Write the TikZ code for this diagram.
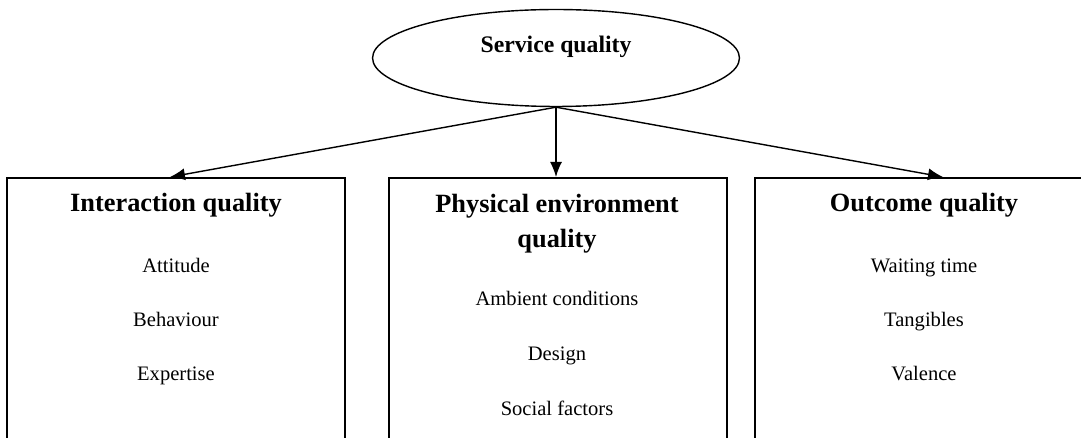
\documentclass[tikz,border=0pt]{standalone}
\usepackage{fontspec}
\setmainfont{Liberation Serif}
\usetikzlibrary{calc,positioning,shapes.geometric,arrows.meta}

\tikzset{
    qualbox/.style={draw, line width=0.9pt, minimum width=6.76cm,
        minimum height=5.9cm, anchor=north},
    boxtitle/.style={font=\fontsize{15}{19.8}\selectfont\bfseries, align=center},
    boxitem/.style={font=\fontsize{11.7}{14}\selectfont,
        text height=0.66em, text depth=0.2em}
}

\begin{document}
\begin{tikzpicture}[x=0.02cm, y=-0.02cm, >={Latex[length=0.3cm,width=0.24cm]}]
    \useasboundingbox (0,0) rectangle (1081,438);
    \clip (0,0) rectangle (1081,438);
    % Service quality
    \node [draw, ellipse, line width=0.8pt,
        minimum width=7.34cm,
        minimum height=1.94cm,
        inner sep=0pt
    ] (Service) at (556,58) {};
    \node [font=\fontsize{13.5}{16}\selectfont\bfseries] (ServiceText) at (556,47) {Service quality};
    % Boxes
    \node [qualbox] (Interaction) at (176,177) {};
    \node [qualbox] (Physical) at (558,177) {};
    \node [qualbox] (Outcome) at (924,177) {};
    % Interaction quality
    \node [boxtitle] (InterTitle) at (176,205) {Interaction quality};
    \node [boxitem] (Attitude) at (176,268) {Attitude};
    \node [boxitem] (Behaviour) at (176,322) {Behaviour};
    \node [boxitem] (Expertise) at (176,376) {Expertise};
    % Physical environment quality
    \node [boxtitle] (PhysTitle) at (557,224) {Physical environment\\quality};
    \node [boxitem] (Ambient) at (557,301) {Ambient conditions};
    \node [boxitem] (Design) at (557,356) {Design};
    \node [boxitem] (Social) at (557,411) {Social factors};
    % Outcome quality
    \node [boxtitle] (OutTitle) at (924,205) {Outcome quality};
    \node [boxitem] (Waiting) at (924,268) {Waiting time};
    \node [boxitem] (Tangibles) at (924,322) {Tangibles};
    \node [boxitem] (Valence) at (924,376) {Valence};
    % Arrows
    \draw[->, line width=0.8pt] (Service.south) -- ($(Interaction.north)+(-6,0)$);
    \draw[->, line width=0.8pt] (Service.south) -- (Physical.north -| Service.south);
    \draw[->, line width=0.8pt] (Service.south) -- ($(Outcome.north)+(19,0)$);

\end{tikzpicture}
\end{document}
